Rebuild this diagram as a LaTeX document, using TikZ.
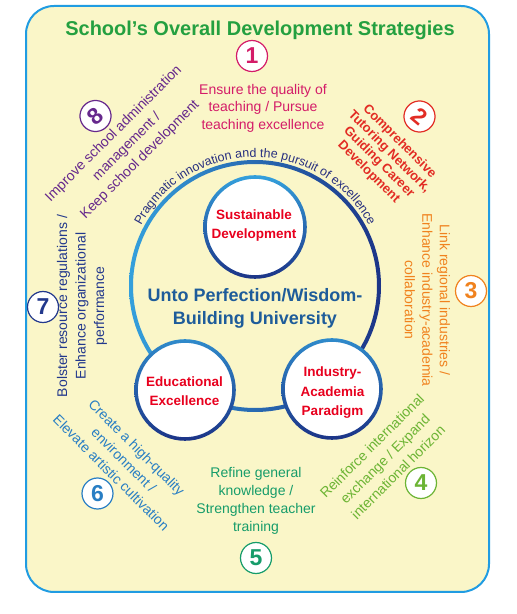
\documentclass[tikz,border=0pt]{standalone}
\usepackage{fontspec}
\setmainfont{Liberation Sans}
\usetikzlibrary{decorations.text}
\definecolor{bgyellow}{RGB}{250,246,200}
\definecolor{frameblue}{RGB}{32,156,226}
\definecolor{titlegreen}{RGB}{36,160,64}
\definecolor{lightring}{RGB}{52,160,220}
\definecolor{darkring}{RGB}{28,52,135}
\definecolor{mainblue}{RGB}{30,92,154}
\definecolor{corered}{RGB}{232,0,30}
\definecolor{arcnavy}{RGB}{40,48,128}
\definecolor{cOne}{RGB}{212,28,104}
\definecolor{cTwo}{RGB}{226,44,36}
\definecolor{cThree}{RGB}{240,130,30}
\definecolor{cFour}{RGB}{108,180,52}
\definecolor{cFive}{RGB}{22,156,106}
\definecolor{cSix}{RGB}{40,126,196}
\definecolor{cSeven}{RGB}{34,56,140}
\definecolor{cEight}{RGB}{102,40,140}
\begin{document}
\begin{tikzpicture}[x=1pt,y=1pt,
  numcirc/.style={circle, draw=#1, fill=white, line width=1.2pt, minimum size=31pt, inner sep=0pt, text=#1, font=\fontsize{23}{23}\selectfont\bfseries},
  strat/.style={text=#1, align=center, font=\fontsize{14}{17.5}\selectfont, inner sep=0pt},
  core/.style={align=center, text=corered, font=\fontsize{13.5}{19.3}\selectfont\bfseries, inner sep=0pt},
  disc/.style={circle, fill=white, minimum size=#1, inner sep=0pt},
]
\useasboundingbox (0,0) rectangle (517,614);
\node[draw=frameblue, fill=bgyellow, line width=2pt, rounded corners=28pt, minimum width=463pt, minimum height=586pt, inner sep=0pt] (frame) at (257.5,315) {};
\node[anchor=base, text=titlegreen, font=\fontsize{20}{20}\selectfont\bfseries, inner sep=0pt] (title) at (260,578) {School's Overall Development Strategies};

% big ring
\coordinate (C) at (255,328);
\shade[left color=lightring, right color=darkring, even odd rule] (C) circle (126) (C) circle (122);
\path[decorate, decoration={text along path, text align=center, text color=arcnavy,
  text={|\fontsize{12.5}{14}\selectfont|Pragmatic innovation and the pursuit of excellence}}]
  (C) ++(153:129) arc (153:27:129);

% core circles
\node[disc=100pt] (sus) at (255,387) {};
\shade[top color=lightring, bottom color=darkring, even odd rule] (sus.center) circle (51.8) (sus.center) circle (48.2);
\node[disc=98pt] (edu) at (185,224) {};
\shade[top color=lightring!80!darkring, bottom color=darkring, even odd rule] (edu.center) circle (50.8) (edu.center) circle (47.2);
\node[disc=98pt] (ind) at (332,225) {};
\shade[top color=lightring!80!darkring, bottom color=darkring, even odd rule] (ind.center) circle (50.8) (ind.center) circle (47.2);

\node[core] (sustxt) at (254,388.7) {Sustainable\\Development};
\node[core] (edutxt) at (184.5,222.6) {Educational\\Excellence};
\node[core] (indtxt) at (332.5,221.2) {Industry-\\Academia\\Paradigm};

\node[align=center, text=mainblue, font=\fontsize{18}{23.3}\selectfont\bfseries, inner sep=0pt] (main) at (255,305.3) {Unto Perfection/Wisdom-\\Building University};

% strategy texts
\node[strat=cOne] (s1) at (263,506) {Ensure the quality of\\teaching / Pursue\\teaching excellence};
\node[strat=cTwo, font=\fontsize{13}{14.5}\selectfont\bfseries, rotate=-45] (s2) at (384,457) {Comprehensive\\Tutoring Network,\\Guiding Career\\Development};
\node[strat=cThree, rotate=-90] (s3) at (427.5,314) {Link regional industries /\\Enhance industry-academia\\collaboration};
\node[strat=cFour, font=\fontsize{14}{18.5}\selectfont, rotate=45] (s4) at (385,155) {Reinforce international\\exchange / Expand\\international horizon};
\node[strat=cFive, font=\fontsize{14}{18}\selectfont] (s5) at (256,113.6) {Refine general\\knowledge /\\Strengthen teacher\\training};
\node[strat=cSix, font=\fontsize{14}{18}\selectfont, rotate=-45] (s6) at (124,154) {Create a high-quality\\environment /\\Elevate artistic cultivation};
\node[strat=cSeven, font=\fontsize{14}{18.5}\selectfont, rotate=90] (s7) at (82,308) {Bolster resource regulations /\\Enhance organizational\\performance};
\node[strat=cEight, font=\fontsize{14}{18.5}\selectfont, rotate=45] (s8) at (127,467) {Improve school administration\\management /\\Keep school development};

% number circles
\node[numcirc=cOne] (n1) at (252,558) {1};
\node[numcirc=cTwo, rotate=-40] (n2) at (419.5,497.5) {2};
\node[numcirc=cThree] (n3) at (471,323) {3};
\node[numcirc=cFour] (n4) at (421,131) {4};
\node[numcirc=cFive] (n5) at (256,56) {5};
\node[numcirc=cSix] (n6) at (97.5,120.5) {6};
\node[numcirc=cSeven] (n7) at (43,307) {7};
\node[numcirc=cEight, rotate=40] (n8) at (95.5,498) {8};
\end{tikzpicture}
\end{document}
